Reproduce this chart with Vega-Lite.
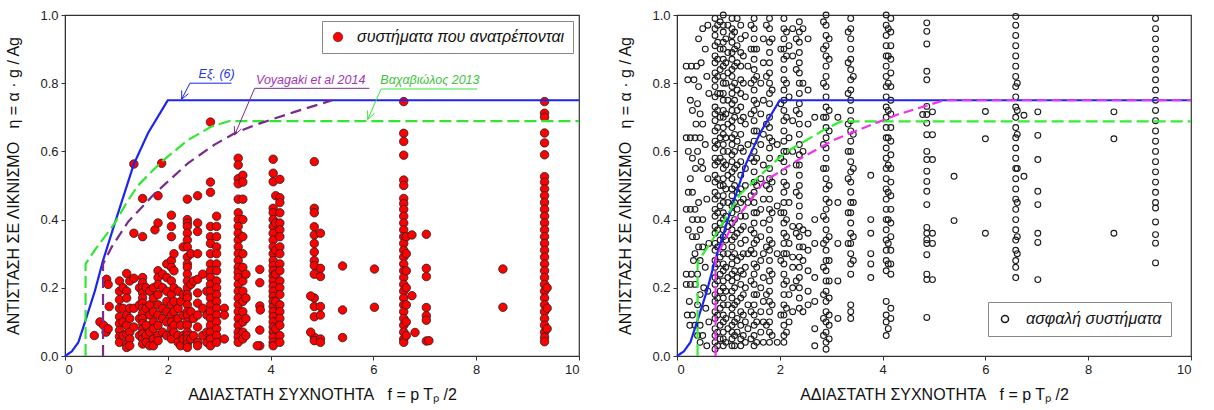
{
"$schema": "https://vega.github.io/schema/vega-lite/v6.json",
"background": "white",
"padding": {"left": 5, "top": 8, "right": 5, "bottom": 5},
"config": {
 "view": {"stroke": "#333", "strokeWidth": 1.2},
 "axis": {"domainColor": "#333", "tickColor": "#333", "tickSize": 4, "labelPadding": 3, "labelColor": "#222", "labelFont": "Liberation Sans", "labelFontSize": 13, "titleFont": "Liberation Sans", "titleFontSize": 16, "titleFontWeight": "normal", "titleColor": "#111", "grid": false},
 "legend": {"title": null, "labelFont": "Liberation Sans", "labelFontSize": 16, "labelFontStyle": "italic", "labelColor": "#111", "labelLimit": 400, "strokeColor": "#888", "fillColor": "white", "padding": 8, "labelOffset": 11},
 "concat": {"spacing": 33}
},
"datasets": {
 "fail": [
{"f":0.57,"eta":0.06},{"f":0.68,"eta":0.1},{"f":0.75,"eta":0.09},{"f":0.8,"eta":0.07},{"f":0.84,"eta":0.08},{"f":0.81,"eta":0.225},{"f":0.84,"eta":0.21},{"f":0.86,"eta":0.145},
{"f":1.06,"eta":0.22},{"f":1.06,"eta":0.19},{"f":1.06,"eta":0.165},{"f":1.06,"eta":0.14},{"f":1.06,"eta":0.115},{"f":1.06,"eta":0.095},{"f":1.06,"eta":0.075},{"f":1.06,"eta":0.057},{"f":1.06,"eta":0.04},
{"f":1.13,"eta":0.2},{"f":1.13,"eta":0.14},{"f":1.13,"eta":0.1},{"f":1.13,"eta":0.06},
{"f":1.2,"eta":0.242},{"f":1.2,"eta":0.19},{"f":1.2,"eta":0.17},{"f":1.2,"eta":0.12},{"f":1.2,"eta":0.09},{"f":1.2,"eta":0.065},{"f":1.2,"eta":0.035},{"f":1.2,"eta":0.025},
{"f":1.26,"eta":0.22},{"f":1.26,"eta":0.14},{"f":1.26,"eta":0.11},{"f":1.26,"eta":0.07},{"f":1.26,"eta":0.05},{"f":1.26,"eta":0.03},
{"f":1.34,"eta":0.563},{"f":1.34,"eta":0.36},{"f":1.34,"eta":0.228},{"f":1.34,"eta":0.14},{"f":1.34,"eta":0.085},
{"f":1.45,"eta":0.2},{"f":1.45,"eta":0.15},{"f":1.45,"eta":0.11},{"f":1.45,"eta":0.06},
{"f":1.51,"eta":0.462},{"f":1.51,"eta":0.35},{"f":1.51,"eta":0.23},{"f":1.51,"eta":0.215},{"f":1.51,"eta":0.2},{"f":1.51,"eta":0.185},{"f":1.51,"eta":0.17},{"f":1.51,"eta":0.155},{"f":1.51,"eta":0.14},{"f":1.51,"eta":0.125},{"f":1.51,"eta":0.11},{"f":1.51,"eta":0.095},{"f":1.51,"eta":0.08},{"f":1.51,"eta":0.065},{"f":1.51,"eta":0.05},{"f":1.51,"eta":0.035},
{"f":1.58,"eta":0.2},{"f":1.58,"eta":0.14},{"f":1.58,"eta":0.09},{"f":1.58,"eta":0.06},{"f":1.58,"eta":0.04},
{"f":1.65,"eta":0.19},{"f":1.65,"eta":0.15},{"f":1.65,"eta":0.12},{"f":1.65,"eta":0.07},{"f":1.65,"eta":0.03},
{"f":1.72,"eta":0.2},{"f":1.72,"eta":0.17},{"f":1.72,"eta":0.13},{"f":1.72,"eta":0.1},{"f":1.72,"eta":0.08},{"f":1.72,"eta":0.05},{"f":1.72,"eta":0.03},
{"f":1.75,"eta":0.37},
{"f":1.81,"eta":0.39},{"f":1.81,"eta":0.47},{"f":1.81,"eta":0.25},{"f":1.81,"eta":0.23},{"f":1.81,"eta":0.21},{"f":1.81,"eta":0.18},{"f":1.81,"eta":0.15},{"f":1.81,"eta":0.12},{"f":1.81,"eta":0.09},{"f":1.81,"eta":0.06},{"f":1.81,"eta":0.045},
{"f":1.88,"eta":0.565},
{"f":1.9,"eta":0.24},{"f":1.9,"eta":0.2},{"f":1.9,"eta":0.14},{"f":1.9,"eta":0.11},{"f":1.9,"eta":0.07},
{"f":1.98,"eta":0.27},{"f":1.98,"eta":0.23},{"f":1.98,"eta":0.19},{"f":1.98,"eta":0.16},{"f":1.98,"eta":0.13},{"f":1.98,"eta":0.1},{"f":1.98,"eta":0.06},
{"f":2.07,"eta":0.413},{"f":2.07,"eta":0.38},{"f":2.07,"eta":0.35},{"f":2.07,"eta":0.28},{"f":2.07,"eta":0.26},{"f":2.07,"eta":0.22},{"f":2.07,"eta":0.18},{"f":2.07,"eta":0.15},{"f":2.07,"eta":0.12},{"f":2.07,"eta":0.1},{"f":2.07,"eta":0.08},{"f":2.07,"eta":0.06},{"f":2.07,"eta":0.05},
{"f":2.12,"eta":0.3},{"f":2.12,"eta":0.25},{"f":2.12,"eta":0.2},{"f":2.12,"eta":0.16},{"f":2.12,"eta":0.13},{"f":2.12,"eta":0.09},{"f":2.12,"eta":0.07},
{"f":2.2,"eta":0.19},{"f":2.2,"eta":0.14},{"f":2.2,"eta":0.11},{"f":2.2,"eta":0.06},{"f":2.2,"eta":0.04},
{"f":2.25,"eta":0.16},{"f":2.25,"eta":0.09},{"f":2.25,"eta":0.03},
{"f":2.3,"eta":0.32},{"f":2.3,"eta":0.18},{"f":2.3,"eta":0.12},{"f":2.3,"eta":0.06},{"f":2.3,"eta":0.05},
{"f":2.38,"eta":0.46},{"f":2.38,"eta":0.4},{"f":2.38,"eta":0.39},{"f":2.38,"eta":0.38},{"f":2.38,"eta":0.36},{"f":2.38,"eta":0.34},{"f":2.38,"eta":0.32},{"f":2.38,"eta":0.29},{"f":2.38,"eta":0.27},{"f":2.38,"eta":0.26},{"f":2.38,"eta":0.24},{"f":2.38,"eta":0.22},{"f":2.38,"eta":0.2},{"f":2.38,"eta":0.18},{"f":2.38,"eta":0.17},{"f":2.38,"eta":0.15},{"f":2.38,"eta":0.13},{"f":2.38,"eta":0.12},{"f":2.38,"eta":0.1},{"f":2.38,"eta":0.09},{"f":2.38,"eta":0.07},{"f":2.38,"eta":0.06},{"f":2.38,"eta":0.05},{"f":2.38,"eta":0.035},{"f":2.38,"eta":0.025},
{"f":2.45,"eta":0.3},{"f":2.45,"eta":0.21},{"f":2.45,"eta":0.13},{"f":2.45,"eta":0.05},
{"f":2.5,"eta":0.22},{"f":2.5,"eta":0.11},{"f":2.5,"eta":0.06},
{"f":2.58,"eta":0.47},{"f":2.58,"eta":0.39},{"f":2.58,"eta":0.365},{"f":2.58,"eta":0.3},{"f":2.58,"eta":0.225},{"f":2.58,"eta":0.185},{"f":2.58,"eta":0.155},{"f":2.58,"eta":0.12},{"f":2.58,"eta":0.085},{"f":2.58,"eta":0.04},{"f":2.58,"eta":0.03},
{"f":2.68,"eta":0.24},{"f":2.68,"eta":0.14},{"f":2.68,"eta":0.06},
{"f":2.76,"eta":0.19},{"f":2.76,"eta":0.12},{"f":2.76,"eta":0.07},{"f":2.76,"eta":0.04},
{"f":2.83,"eta":0.686},{"f":2.83,"eta":0.51},{"f":2.83,"eta":0.48},{"f":2.83,"eta":0.38},{"f":2.83,"eta":0.35},{"f":2.83,"eta":0.33},{"f":2.83,"eta":0.3},{"f":2.83,"eta":0.27},{"f":2.83,"eta":0.25},{"f":2.83,"eta":0.23},{"f":2.83,"eta":0.21},{"f":2.83,"eta":0.19},{"f":2.83,"eta":0.17},{"f":2.83,"eta":0.15},{"f":2.83,"eta":0.13},{"f":2.83,"eta":0.11},{"f":2.83,"eta":0.09},{"f":2.83,"eta":0.07},{"f":2.83,"eta":0.05},{"f":2.83,"eta":0.03},
{"f":2.95,"eta":0.41},{"f":2.95,"eta":0.38},{"f":2.95,"eta":0.35},{"f":2.95,"eta":0.32},{"f":2.95,"eta":0.3},{"f":2.95,"eta":0.27},{"f":2.95,"eta":0.25},{"f":2.95,"eta":0.22},{"f":2.95,"eta":0.2},{"f":2.95,"eta":0.18},{"f":2.95,"eta":0.16},{"f":2.95,"eta":0.14},{"f":2.95,"eta":0.12},{"f":2.95,"eta":0.1},{"f":2.95,"eta":0.08},{"f":2.95,"eta":0.06},{"f":2.95,"eta":0.04},
{"f":3.1,"eta":0.14},{"f":3.1,"eta":0.12},{"f":3.1,"eta":0.05},
{"f":3.37,"eta":0.58},{"f":3.37,"eta":0.56},{"f":3.37,"eta":0.52},{"f":3.37,"eta":0.505},{"f":3.37,"eta":0.46},{"f":3.37,"eta":0.42},{"f":3.37,"eta":0.4},{"f":3.37,"eta":0.38},{"f":3.37,"eta":0.36},{"f":3.37,"eta":0.34},{"f":3.37,"eta":0.32},{"f":3.37,"eta":0.3},{"f":3.37,"eta":0.28},{"f":3.37,"eta":0.26},{"f":3.37,"eta":0.245},{"f":3.37,"eta":0.23},{"f":3.37,"eta":0.21},{"f":3.37,"eta":0.19},{"f":3.37,"eta":0.17},{"f":3.37,"eta":0.15},{"f":3.37,"eta":0.13},{"f":3.37,"eta":0.11},{"f":3.37,"eta":0.09},{"f":3.37,"eta":0.07},{"f":3.37,"eta":0.055},{"f":3.37,"eta":0.04},
{"f":3.46,"eta":0.53},{"f":3.46,"eta":0.51},{"f":3.46,"eta":0.46},{"f":3.46,"eta":0.4},{"f":3.46,"eta":0.35},{"f":3.46,"eta":0.3},{"f":3.46,"eta":0.26},{"f":3.46,"eta":0.22},{"f":3.46,"eta":0.19},{"f":3.46,"eta":0.16},{"f":3.46,"eta":0.13},{"f":3.46,"eta":0.1},{"f":3.46,"eta":0.07},{"f":3.46,"eta":0.05},
{"f":3.52,"eta":0.24},{"f":3.52,"eta":0.17},{"f":3.52,"eta":0.11},{"f":3.52,"eta":0.06},
{"f":3.79,"eta":0.254},{"f":3.79,"eta":0.215},{"f":3.79,"eta":0.147},{"f":3.8,"eta":0.135},{"f":3.79,"eta":0.076},{"f":3.79,"eta":0.03},{"f":3.74,"eta":0.03},
{"f":4.05,"eta":0.577},{"f":4.05,"eta":0.536},{"f":4.05,"eta":0.511},{"f":4.05,"eta":0.433},{"f":4.05,"eta":0.42},{"f":4.05,"eta":0.4},{"f":4.05,"eta":0.38},{"f":4.05,"eta":0.36},{"f":4.05,"eta":0.34},{"f":4.05,"eta":0.32},{"f":4.05,"eta":0.3},{"f":4.05,"eta":0.28},{"f":4.05,"eta":0.265},{"f":4.05,"eta":0.25},{"f":4.05,"eta":0.235},{"f":4.05,"eta":0.22},{"f":4.05,"eta":0.205},{"f":4.05,"eta":0.19},{"f":4.05,"eta":0.175},{"f":4.05,"eta":0.16},{"f":4.05,"eta":0.145},{"f":4.05,"eta":0.13},{"f":4.05,"eta":0.115},{"f":4.05,"eta":0.1},{"f":4.05,"eta":0.085},{"f":4.05,"eta":0.07},{"f":4.05,"eta":0.055},{"f":4.05,"eta":0.04},{"f":4.05,"eta":0.03},
{"f":4.1,"eta":0.47},{"f":4.1,"eta":0.39},{"f":4.1,"eta":0.31},{"f":4.1,"eta":0.24},{"f":4.1,"eta":0.16},{"f":4.1,"eta":0.08},
{"f":4.18,"eta":0.518},{"f":4.18,"eta":0.464},{"f":4.18,"eta":0.45},{"f":4.18,"eta":0.42},{"f":4.18,"eta":0.39},{"f":4.18,"eta":0.37},{"f":4.18,"eta":0.35},{"f":4.18,"eta":0.32},{"f":4.18,"eta":0.3},{"f":4.18,"eta":0.27},{"f":4.18,"eta":0.25},{"f":4.18,"eta":0.22},{"f":4.18,"eta":0.2},{"f":4.18,"eta":0.18},{"f":4.18,"eta":0.15},{"f":4.18,"eta":0.13},{"f":4.18,"eta":0.11},{"f":4.18,"eta":0.09},{"f":4.18,"eta":0.06},{"f":4.18,"eta":0.04},
{"f":4.85,"eta":0.57},{"f":4.85,"eta":0.433},{"f":4.85,"eta":0.42},{"f":4.85,"eta":0.379},{"f":4.85,"eta":0.355},{"f":4.85,"eta":0.33},{"f":4.85,"eta":0.305},{"f":4.85,"eta":0.28},{"f":4.85,"eta":0.265},{"f":4.85,"eta":0.24},{"f":4.85,"eta":0.17},{"f":4.85,"eta":0.145},{"f":4.85,"eta":0.115},{"f":4.85,"eta":0.055},{"f":4.85,"eta":0.045},
{"f":4.78,"eta":0.176},{"f":4.78,"eta":0.07},
{"f":4.97,"eta":0.36},{"f":4.97,"eta":0.257},{"f":4.97,"eta":0.233},{"f":4.97,"eta":0.145},{"f":4.97,"eta":0.12},{"f":4.97,"eta":0.05},{"f":4.97,"eta":0.04},
{"f":5.4,"eta":0.264},{"f":5.4,"eta":0.135},{"f":5.4,"eta":0.054},
{"f":6.02,"eta":0.255},{"f":6.02,"eta":0.143},
{"f":6.59,"eta":0.746},{"f":6.59,"eta":0.653},{"f":6.59,"eta":0.629},{"f":6.59,"eta":0.589},{"f":6.59,"eta":0.516},{"f":6.59,"eta":0.5},{"f":6.59,"eta":0.462},{"f":6.59,"eta":0.447},{"f":6.59,"eta":0.43},{"f":6.59,"eta":0.41},{"f":6.59,"eta":0.39},{"f":6.59,"eta":0.37},{"f":6.59,"eta":0.35},{"f":6.59,"eta":0.33},{"f":6.59,"eta":0.31},{"f":6.59,"eta":0.29},{"f":6.59,"eta":0.27},{"f":6.59,"eta":0.25},{"f":6.59,"eta":0.23},{"f":6.59,"eta":0.21},{"f":6.59,"eta":0.19},{"f":6.59,"eta":0.17},{"f":6.59,"eta":0.15},{"f":6.59,"eta":0.13},{"f":6.59,"eta":0.11},{"f":6.59,"eta":0.09},{"f":6.59,"eta":0.07},{"f":6.59,"eta":0.05},{"f":6.59,"eta":0.04},
{"f":6.64,"eta":0.35},{"f":6.64,"eta":0.3},{"f":6.64,"eta":0.25},{"f":6.64,"eta":0.2},{"f":6.64,"eta":0.15},{"f":6.64,"eta":0.1},{"f":6.64,"eta":0.06},
{"f":6.75,"eta":0.355},{"f":6.75,"eta":0.177},{"f":6.81,"eta":0.069},
{"f":7.03,"eta":0.357},{"f":7.03,"eta":0.257},{"f":7.03,"eta":0.233},{"f":7.03,"eta":0.142},{"f":7.03,"eta":0.118},{"f":7.03,"eta":0.105},{"f":7.03,"eta":0.044},{"f":7.08,"eta":0.045},
{"f":8.52,"eta":0.255},{"f":8.52,"eta":0.143},
{"f":9.33,"eta":0.746},{"f":9.33,"eta":0.712},{"f":9.33,"eta":0.7},{"f":9.33,"eta":0.654},{"f":9.33,"eta":0.625},{"f":9.33,"eta":0.59},{"f":9.33,"eta":0.526},{"f":9.33,"eta":0.51},{"f":9.33,"eta":0.49},{"f":9.33,"eta":0.47},{"f":9.33,"eta":0.45},{"f":9.33,"eta":0.43},{"f":9.33,"eta":0.41},{"f":9.33,"eta":0.39},{"f":9.33,"eta":0.37},{"f":9.33,"eta":0.35},{"f":9.33,"eta":0.33},{"f":9.33,"eta":0.31},{"f":9.33,"eta":0.29},{"f":9.33,"eta":0.27},{"f":9.33,"eta":0.25},{"f":9.33,"eta":0.23},{"f":9.33,"eta":0.21},{"f":9.33,"eta":0.19},{"f":9.33,"eta":0.17},{"f":9.33,"eta":0.15},{"f":9.33,"eta":0.13},{"f":9.33,"eta":0.11},{"f":9.33,"eta":0.09},{"f":9.33,"eta":0.07},{"f":9.33,"eta":0.055},{"f":9.33,"eta":0.042},
{"f":9.38,"eta":0.2},{"f":9.38,"eta":0.14},{"f":9.38,"eta":0.08}
 ],
 "safe": [
{"f":0.18,"eta":0.85},{"f":0.28,"eta":0.85},{"f":0.38,"eta":0.85},{"f":0.47,"eta":0.86},{"f":0.21,"eta":0.81},{"f":0.33,"eta":0.81},{"f":0.42,"eta":0.79},{"f":0.26,"eta":0.75},{"f":0.4,"eta":0.74},{"f":0.3,"eta":0.72},{"f":0.45,"eta":0.71},{"f":0.37,"eta":0.68},{"f":0.5,"eta":0.68},{"f":0.18,"eta":0.64},{"f":0.26,"eta":0.64},{"f":0.35,"eta":0.64},{"f":0.45,"eta":0.64},{"f":0.22,"eta":0.6},{"f":0.4,"eta":0.6},{"f":0.3,"eta":0.58},{"f":0.47,"eta":0.57},{"f":0.36,"eta":0.55},{"f":0.5,"eta":0.55},{"f":0.26,"eta":0.52},{"f":0.22,"eta":0.48},{"f":0.3,"eta":0.48},{"f":0.42,"eta":0.45},{"f":0.18,"eta":0.43},{"f":0.26,"eta":0.43},{"f":0.35,"eta":0.43},{"f":0.3,"eta":0.4},{"f":0.4,"eta":0.4},{"f":0.5,"eta":0.4},{"f":0.22,"eta":0.37},{"f":0.45,"eta":0.37},{"f":0.3,"eta":0.35},{"f":0.38,"eta":0.35},{"f":0.42,"eta":0.32},{"f":0.5,"eta":0.32},{"f":0.35,"eta":0.3},{"f":0.45,"eta":0.28},{"f":0.18,"eta":0.24},{"f":0.28,"eta":0.24},{"f":0.4,"eta":0.24},{"f":0.18,"eta":0.21},{"f":0.26,"eta":0.21},{"f":0.35,"eta":0.21},{"f":0.45,"eta":0.18},{"f":0.4,"eta":0.15},{"f":0.2,"eta":0.12},{"f":0.3,"eta":0.12},{"f":0.25,"eta":0.09},{"f":0.35,"eta":0.09},{"f":0.45,"eta":0.09},{"f":0.4,"eta":0.06},{"f":0.5,"eta":0.06},{"f":0.45,"eta":0.04},{"f":0.5,"eta":0.96},{"f":0.42,"eta":0.93},{"f":0.55,"eta":0.9},{"f":0.6,"eta":0.97},{"f":0.58,"eta":0.82},{"f":0.62,"eta":0.77},{"f":0.55,"eta":0.62},{"f":0.6,"eta":0.52},{"f":0.58,"eta":0.46},{"f":0.62,"eta":0.33},{"f":0.55,"eta":0.26},{"f":0.6,"eta":0.19},{"f":0.56,"eta":0.14},{"f":0.62,"eta":0.1},{"f":0.58,"eta":0.03},{"f":0.52,"eta":0.2},{"f":0.32,"eta":0.28},{"f":0.24,"eta":0.16},
{"f":0.74,"eta":0.99},{"f":0.74,"eta":0.96},{"f":0.74,"eta":0.94},{"f":0.74,"eta":0.91},{"f":0.74,"eta":0.88},{"f":0.74,"eta":0.86},{"f":0.74,"eta":0.83},{"f":0.74,"eta":0.81},{"f":0.74,"eta":0.79},{"f":0.74,"eta":0.76},{"f":0.74,"eta":0.73},{"f":0.74,"eta":0.71},{"f":0.74,"eta":0.69},{"f":0.74,"eta":0.66},{"f":0.74,"eta":0.63},{"f":0.74,"eta":0.61},{"f":0.74,"eta":0.58},{"f":0.74,"eta":0.56},{"f":0.74,"eta":0.53},{"f":0.74,"eta":0.51},{"f":0.74,"eta":0.48},{"f":0.74,"eta":0.46},{"f":0.74,"eta":0.43},{"f":0.74,"eta":0.41},{"f":0.74,"eta":0.38},{"f":0.74,"eta":0.36},{"f":0.74,"eta":0.33},{"f":0.74,"eta":0.31},{"f":0.74,"eta":0.28},{"f":0.74,"eta":0.26},{"f":0.74,"eta":0.23},{"f":0.74,"eta":0.21},{"f":0.74,"eta":0.18},{"f":0.74,"eta":0.16},{"f":0.74,"eta":0.13},{"f":0.74,"eta":0.11},{"f":0.74,"eta":0.08},{"f":0.74,"eta":0.06},{"f":0.74,"eta":0.04},{"f":0.74,"eta":0.02},
{"f":0.79,"eta":0.97},{"f":0.79,"eta":0.92},{"f":0.79,"eta":0.87},{"f":0.79,"eta":0.82},{"f":0.79,"eta":0.77},{"f":0.79,"eta":0.72},{"f":0.79,"eta":0.67},{"f":0.79,"eta":0.62},{"f":0.79,"eta":0.57},{"f":0.79,"eta":0.52},{"f":0.79,"eta":0.47},{"f":0.79,"eta":0.42},{"f":0.79,"eta":0.37},{"f":0.79,"eta":0.32},{"f":0.79,"eta":0.27},{"f":0.79,"eta":0.22},{"f":0.79,"eta":0.17},{"f":0.79,"eta":0.12},{"f":0.79,"eta":0.07},{"f":0.79,"eta":0.03},
{"f":0.84,"eta":0.98},{"f":0.84,"eta":0.9},{"f":0.84,"eta":0.84},{"f":0.84,"eta":0.77},{"f":0.84,"eta":0.7},{"f":0.84,"eta":0.64},{"f":0.84,"eta":0.58},{"f":0.84,"eta":0.5},{"f":0.84,"eta":0.44},{"f":0.84,"eta":0.39},{"f":0.84,"eta":0.34},{"f":0.84,"eta":0.29},{"f":0.84,"eta":0.24},{"f":0.84,"eta":0.19},{"f":0.84,"eta":0.14},{"f":0.84,"eta":0.09},{"f":0.84,"eta":0.05},
{"f":0.9,"eta":1.0},{"f":0.9,"eta":0.97},{"f":0.9,"eta":0.95},{"f":0.9,"eta":0.92},{"f":0.9,"eta":0.9},{"f":0.9,"eta":0.87},{"f":0.9,"eta":0.85},{"f":0.9,"eta":0.82},{"f":0.9,"eta":0.8},{"f":0.9,"eta":0.77},{"f":0.9,"eta":0.75},{"f":0.9,"eta":0.72},{"f":0.9,"eta":0.7},{"f":0.9,"eta":0.67},{"f":0.9,"eta":0.65},{"f":0.9,"eta":0.62},{"f":0.9,"eta":0.6},{"f":0.9,"eta":0.57},{"f":0.9,"eta":0.55},{"f":0.9,"eta":0.52},{"f":0.9,"eta":0.5},{"f":0.9,"eta":0.47},{"f":0.9,"eta":0.45},{"f":0.9,"eta":0.42},{"f":0.9,"eta":0.4},{"f":0.9,"eta":0.37},{"f":0.9,"eta":0.35},{"f":0.9,"eta":0.32},{"f":0.9,"eta":0.3},{"f":0.9,"eta":0.27},{"f":0.9,"eta":0.25},{"f":0.9,"eta":0.22},{"f":0.9,"eta":0.2},{"f":0.9,"eta":0.17},{"f":0.9,"eta":0.15},{"f":0.9,"eta":0.12},{"f":0.9,"eta":0.1},{"f":0.9,"eta":0.07},{"f":0.9,"eta":0.05},{"f":0.9,"eta":0.03},
{"f":0.95,"eta":0.93},{"f":0.95,"eta":0.86},{"f":0.95,"eta":0.8},{"f":0.95,"eta":0.71},{"f":0.95,"eta":0.64},{"f":0.95,"eta":0.56},{"f":0.95,"eta":0.49},{"f":0.95,"eta":0.41},{"f":0.95,"eta":0.34},{"f":0.95,"eta":0.26},{"f":0.95,"eta":0.19},{"f":0.95,"eta":0.11},{"f":0.95,"eta":0.04},
{"f":0.99,"eta":0.97},{"f":0.99,"eta":0.89},{"f":0.99,"eta":0.83},{"f":0.99,"eta":0.75},{"f":0.99,"eta":0.68},{"f":0.99,"eta":0.6},{"f":0.99,"eta":0.53},{"f":0.99,"eta":0.45},{"f":0.99,"eta":0.38},{"f":0.99,"eta":0.3},{"f":0.99,"eta":0.23},{"f":0.99,"eta":0.15},{"f":0.99,"eta":0.08},
{"f":1.07,"eta":0.99},{"f":1.07,"eta":0.96},{"f":1.07,"eta":0.94},{"f":1.07,"eta":0.92},{"f":1.07,"eta":0.89},{"f":1.07,"eta":0.87},{"f":1.07,"eta":0.84},{"f":1.07,"eta":0.82},{"f":1.07,"eta":0.79},{"f":1.07,"eta":0.77},{"f":1.07,"eta":0.74},{"f":1.07,"eta":0.72},{"f":1.07,"eta":0.69},{"f":1.07,"eta":0.67},{"f":1.07,"eta":0.64},{"f":1.07,"eta":0.62},{"f":1.07,"eta":0.59},{"f":1.07,"eta":0.57},{"f":1.07,"eta":0.54},{"f":1.07,"eta":0.52},{"f":1.07,"eta":0.49},{"f":1.07,"eta":0.47},{"f":1.07,"eta":0.44},{"f":1.07,"eta":0.42},{"f":1.07,"eta":0.39},{"f":1.07,"eta":0.37},{"f":1.07,"eta":0.34},{"f":1.07,"eta":0.32},{"f":1.07,"eta":0.29},{"f":1.07,"eta":0.27},{"f":1.07,"eta":0.24},{"f":1.07,"eta":0.22},{"f":1.07,"eta":0.19},{"f":1.07,"eta":0.17},{"f":1.07,"eta":0.14},{"f":1.07,"eta":0.12},{"f":1.07,"eta":0.09},{"f":1.07,"eta":0.07},{"f":1.07,"eta":0.05},{"f":1.07,"eta":0.03},
{"f":1.12,"eta":0.95},{"f":1.12,"eta":0.9},{"f":1.12,"eta":0.85},{"f":1.12,"eta":0.8},{"f":1.12,"eta":0.75},{"f":1.12,"eta":0.7},{"f":1.12,"eta":0.65},{"f":1.12,"eta":0.6},{"f":1.12,"eta":0.55},{"f":1.12,"eta":0.5},{"f":1.12,"eta":0.45},{"f":1.12,"eta":0.4},{"f":1.12,"eta":0.35},{"f":1.12,"eta":0.3},{"f":1.12,"eta":0.25},{"f":1.12,"eta":0.2},{"f":1.12,"eta":0.15},{"f":1.12,"eta":0.1},{"f":1.12,"eta":0.06},{"f":1.12,"eta":0.03},
{"f":1.17,"eta":0.99},{"f":1.17,"eta":0.91},{"f":1.17,"eta":0.86},{"f":1.17,"eta":0.78},{"f":1.17,"eta":0.72},{"f":1.17,"eta":0.63},{"f":1.17,"eta":0.56},{"f":1.17,"eta":0.48},{"f":1.17,"eta":0.43},{"f":1.17,"eta":0.36},{"f":1.17,"eta":0.28},{"f":1.17,"eta":0.23},{"f":1.17,"eta":0.16},{"f":1.17,"eta":0.11},{"f":1.17,"eta":0.07},
{"f":1.24,"eta":0.97},{"f":1.24,"eta":0.93},{"f":1.24,"eta":0.89},{"f":1.24,"eta":0.85},{"f":1.24,"eta":0.81},{"f":1.24,"eta":0.77},{"f":1.24,"eta":0.73},{"f":1.24,"eta":0.69},{"f":1.24,"eta":0.65},{"f":1.24,"eta":0.61},{"f":1.24,"eta":0.57},{"f":1.24,"eta":0.53},{"f":1.24,"eta":0.49},{"f":1.24,"eta":0.45},{"f":1.24,"eta":0.41},{"f":1.24,"eta":0.37},{"f":1.24,"eta":0.33},{"f":1.24,"eta":0.29},{"f":1.24,"eta":0.25},{"f":1.24,"eta":0.21},{"f":1.24,"eta":0.17},{"f":1.24,"eta":0.13},{"f":1.24,"eta":0.09},{"f":1.24,"eta":0.05},{"f":1.24,"eta":0.03},
{"f":1.29,"eta":0.88},{"f":1.29,"eta":0.8},{"f":1.29,"eta":0.7},{"f":1.29,"eta":0.6},{"f":1.29,"eta":0.46},{"f":1.29,"eta":0.38},{"f":1.29,"eta":0.3},{"f":1.29,"eta":0.24},{"f":1.29,"eta":0.18},{"f":1.29,"eta":0.12},{"f":1.29,"eta":0.06},
{"f":1.33,"eta":0.94},{"f":1.33,"eta":0.76},{"f":1.33,"eta":0.68},{"f":1.33,"eta":0.55},{"f":1.33,"eta":0.5},{"f":1.33,"eta":0.41},{"f":1.33,"eta":0.34},{"f":1.33,"eta":0.26},{"f":1.33,"eta":0.2},{"f":1.33,"eta":0.1},{"f":1.33,"eta":0.04},
{"f":1.38,"eta":0.85},{"f":1.38,"eta":0.62},{"f":1.38,"eta":0.45},{"f":1.38,"eta":0.3},{"f":1.38,"eta":0.15},{"f":1.38,"eta":0.08},
{"f":1.44,"eta":0.97},{"f":1.44,"eta":0.9},{"f":1.44,"eta":0.8},{"f":1.44,"eta":0.71},{"f":1.44,"eta":0.58},{"f":1.44,"eta":0.47},{"f":1.44,"eta":0.37},{"f":1.44,"eta":0.31},{"f":1.44,"eta":0.22},{"f":1.44,"eta":0.13},{"f":1.44,"eta":0.05},
{"f":1.5,"eta":0.99},{"f":1.5,"eta":0.96},{"f":1.5,"eta":0.93},{"f":1.5,"eta":0.9},{"f":1.5,"eta":0.87},{"f":1.5,"eta":0.84},{"f":1.5,"eta":0.81},{"f":1.5,"eta":0.78},{"f":1.5,"eta":0.75},{"f":1.5,"eta":0.72},{"f":1.5,"eta":0.69},{"f":1.5,"eta":0.66},{"f":1.5,"eta":0.63},{"f":1.5,"eta":0.6},{"f":1.5,"eta":0.57},{"f":1.5,"eta":0.54},{"f":1.5,"eta":0.51},{"f":1.5,"eta":0.48},{"f":1.5,"eta":0.45},{"f":1.5,"eta":0.42},{"f":1.5,"eta":0.39},{"f":1.5,"eta":0.36},{"f":1.5,"eta":0.33},{"f":1.5,"eta":0.3},{"f":1.5,"eta":0.27},{"f":1.5,"eta":0.24},{"f":1.5,"eta":0.21},{"f":1.5,"eta":0.18},{"f":1.5,"eta":0.15},{"f":1.5,"eta":0.12},{"f":1.5,"eta":0.09},{"f":1.5,"eta":0.06},{"f":1.5,"eta":0.03},
{"f":1.55,"eta":0.9},{"f":1.55,"eta":0.82},{"f":1.55,"eta":0.74},{"f":1.55,"eta":0.66},{"f":1.55,"eta":0.58},{"f":1.55,"eta":0.5},{"f":1.55,"eta":0.42},{"f":1.55,"eta":0.34},{"f":1.55,"eta":0.26},{"f":1.55,"eta":0.18},{"f":1.55,"eta":0.1},{"f":1.55,"eta":0.04},
{"f":1.63,"eta":0.8},{"f":1.63,"eta":0.71},{"f":1.63,"eta":0.62},{"f":1.63,"eta":0.52},{"f":1.63,"eta":0.43},{"f":1.63,"eta":0.35},{"f":1.63,"eta":0.28},{"f":1.63,"eta":0.2},{"f":1.63,"eta":0.13},{"f":1.63,"eta":0.07},
{"f":1.68,"eta":0.93},{"f":1.68,"eta":0.86},{"f":1.68,"eta":0.75},{"f":1.68,"eta":0.65},{"f":1.68,"eta":0.56},{"f":1.68,"eta":0.46},{"f":1.68,"eta":0.39},{"f":1.68,"eta":0.3},{"f":1.68,"eta":0.23},{"f":1.68,"eta":0.16},{"f":1.68,"eta":0.1},{"f":1.68,"eta":0.04},
{"f":1.74,"eta":0.97},{"f":1.74,"eta":0.82},{"f":1.74,"eta":0.68},{"f":1.74,"eta":0.5},{"f":1.74,"eta":0.32},{"f":1.74,"eta":0.18},{"f":1.74,"eta":0.09},
{"f":1.8,"eta":0.99},{"f":1.8,"eta":0.96},{"f":1.8,"eta":0.92},{"f":1.8,"eta":0.89},{"f":1.8,"eta":0.86},{"f":1.8,"eta":0.83},{"f":1.8,"eta":0.8},{"f":1.8,"eta":0.77},{"f":1.8,"eta":0.74},{"f":1.8,"eta":0.7},{"f":1.8,"eta":0.67},{"f":1.8,"eta":0.64},{"f":1.8,"eta":0.61},{"f":1.8,"eta":0.58},{"f":1.8,"eta":0.55},{"f":1.8,"eta":0.52},{"f":1.8,"eta":0.49},{"f":1.8,"eta":0.46},{"f":1.8,"eta":0.43},{"f":1.8,"eta":0.4},{"f":1.8,"eta":0.37},{"f":1.8,"eta":0.34},{"f":1.8,"eta":0.31},{"f":1.8,"eta":0.28},{"f":1.8,"eta":0.25},{"f":1.8,"eta":0.22},{"f":1.8,"eta":0.19},{"f":1.8,"eta":0.16},{"f":1.8,"eta":0.13},{"f":1.8,"eta":0.1},{"f":1.8,"eta":0.07},{"f":1.8,"eta":0.04},
{"f":1.85,"eta":0.93},{"f":1.85,"eta":0.78},{"f":1.85,"eta":0.63},{"f":1.85,"eta":0.51},{"f":1.85,"eta":0.42},{"f":1.85,"eta":0.33},{"f":1.85,"eta":0.24},{"f":1.85,"eta":0.15},{"f":1.85,"eta":0.06},
{"f":1.95,"eta":0.62},{"f":1.95,"eta":0.44},{"f":1.95,"eta":0.3},{"f":1.95,"eta":0.04},
{"f":2.02,"eta":0.9},{"f":2.02,"eta":0.74},{"f":2.02,"eta":0.58},{"f":2.02,"eta":0.42},{"f":2.02,"eta":0.28},{"f":2.02,"eta":0.12},
{"f":2.08,"eta":0.99},{"f":2.08,"eta":0.96},{"f":2.08,"eta":0.93},{"f":2.08,"eta":0.9},{"f":2.08,"eta":0.87},{"f":2.08,"eta":0.84},{"f":2.08,"eta":0.81},{"f":2.08,"eta":0.78},{"f":2.08,"eta":0.75},{"f":2.08,"eta":0.72},{"f":2.08,"eta":0.69},{"f":2.08,"eta":0.66},{"f":2.08,"eta":0.63},{"f":2.08,"eta":0.6},{"f":2.08,"eta":0.57},{"f":2.08,"eta":0.54},{"f":2.08,"eta":0.51},{"f":2.08,"eta":0.48},{"f":2.08,"eta":0.45},{"f":2.08,"eta":0.42},{"f":2.08,"eta":0.39},{"f":2.08,"eta":0.36},{"f":2.08,"eta":0.33},{"f":2.08,"eta":0.3},{"f":2.08,"eta":0.27},{"f":2.08,"eta":0.24},{"f":2.08,"eta":0.21},{"f":2.08,"eta":0.18},{"f":2.08,"eta":0.15},{"f":2.08,"eta":0.12},{"f":2.08,"eta":0.09},{"f":2.08,"eta":0.06},{"f":2.08,"eta":0.04},
{"f":2.13,"eta":0.95},{"f":2.13,"eta":0.88},{"f":2.13,"eta":0.8},{"f":2.13,"eta":0.7},{"f":2.13,"eta":0.6},{"f":2.13,"eta":0.5},{"f":2.13,"eta":0.4},{"f":2.13,"eta":0.35},{"f":2.13,"eta":0.3},{"f":2.13,"eta":0.22},{"f":2.13,"eta":0.14},{"f":2.13,"eta":0.07},
{"f":2.18,"eta":0.91},{"f":2.18,"eta":0.76},{"f":2.18,"eta":0.64},{"f":2.18,"eta":0.45},{"f":2.18,"eta":0.33},{"f":2.18,"eta":0.18},{"f":2.18,"eta":0.1},
{"f":2.25,"eta":0.96},{"f":2.25,"eta":0.88},{"f":2.25,"eta":0.69},{"f":2.25,"eta":0.6},{"f":2.25,"eta":0.38},{"f":2.25,"eta":0.29},{"f":2.25,"eta":0.26},{"f":2.25,"eta":0.2},{"f":2.25,"eta":0.13},
{"f":2.32,"eta":0.93},{"f":2.32,"eta":0.84},{"f":2.32,"eta":0.72},{"f":2.32,"eta":0.56},{"f":2.32,"eta":0.48},{"f":2.32,"eta":0.36},{"f":2.32,"eta":0.22},
{"f":2.38,"eta":0.98},{"f":2.38,"eta":0.95},{"f":2.38,"eta":0.92},{"f":2.38,"eta":0.89},{"f":2.38,"eta":0.86},{"f":2.38,"eta":0.83},{"f":2.38,"eta":0.8},{"f":2.38,"eta":0.77},{"f":2.38,"eta":0.74},{"f":2.38,"eta":0.71},{"f":2.38,"eta":0.68},{"f":2.38,"eta":0.65},{"f":2.38,"eta":0.62},{"f":2.38,"eta":0.59},{"f":2.38,"eta":0.56},{"f":2.38,"eta":0.53},{"f":2.38,"eta":0.5},{"f":2.38,"eta":0.47},{"f":2.38,"eta":0.44},{"f":2.38,"eta":0.41},{"f":2.38,"eta":0.38},{"f":2.38,"eta":0.35},{"f":2.38,"eta":0.32},{"f":2.38,"eta":0.29},{"f":2.38,"eta":0.26},{"f":2.38,"eta":0.23},{"f":2.38,"eta":0.2},{"f":2.38,"eta":0.17},{"f":2.38,"eta":0.14},
{"f":2.45,"eta":0.96},{"f":2.45,"eta":0.8},{"f":2.45,"eta":0.6},{"f":2.45,"eta":0.37},{"f":2.45,"eta":0.32},{"f":2.45,"eta":0.28},{"f":2.45,"eta":0.13},
{"f":2.55,"eta":0.93},{"f":2.55,"eta":0.78},{"f":2.55,"eta":0.68},{"f":2.55,"eta":0.36},{"f":2.55,"eta":0.31},{"f":2.55,"eta":0.25},{"f":2.55,"eta":0.19},{"f":2.55,"eta":0.15},
{"f":2.68,"eta":0.7},{"f":2.68,"eta":0.4},{"f":2.68,"eta":0.33},{"f":2.68,"eta":0.23},{"f":2.68,"eta":0.16},{"f":2.68,"eta":0.08},{"f":2.68,"eta":0.03},
{"f":2.85,"eta":0.98},{"f":2.85,"eta":0.9},{"f":2.85,"eta":0.8},{"f":2.85,"eta":0.7},{"f":2.85,"eta":0.62},{"f":2.85,"eta":0.55},{"f":2.85,"eta":0.41},{"f":2.85,"eta":0.33},{"f":2.85,"eta":0.26},{"f":2.85,"eta":0.18},{"f":2.85,"eta":0.11},{"f":2.85,"eta":0.06},
{"f":2.9,"eta":1.0},{"f":2.9,"eta":0.97},{"f":2.9,"eta":0.94},{"f":2.9,"eta":0.91},{"f":2.9,"eta":0.88},{"f":2.9,"eta":0.85},{"f":2.9,"eta":0.82},{"f":2.9,"eta":0.79},{"f":2.9,"eta":0.76},{"f":2.9,"eta":0.73},{"f":2.9,"eta":0.7},{"f":2.9,"eta":0.67},{"f":2.9,"eta":0.64},{"f":2.9,"eta":0.61},{"f":2.9,"eta":0.58},{"f":2.9,"eta":0.55},{"f":2.9,"eta":0.52},{"f":2.9,"eta":0.49},{"f":2.9,"eta":0.46},{"f":2.9,"eta":0.43},{"f":2.9,"eta":0.4},{"f":2.9,"eta":0.37},{"f":2.9,"eta":0.34},{"f":2.9,"eta":0.31},{"f":2.9,"eta":0.28},{"f":2.9,"eta":0.25},{"f":2.9,"eta":0.22},{"f":2.9,"eta":0.19},{"f":2.9,"eta":0.16},{"f":2.9,"eta":0.13},{"f":2.9,"eta":0.1},{"f":2.9,"eta":0.07},{"f":2.9,"eta":0.04},{"f":2.9,"eta":0.02},
{"f":2.96,"eta":0.93},{"f":2.96,"eta":0.87},{"f":2.96,"eta":0.72},{"f":2.96,"eta":0.66},{"f":2.96,"eta":0.5},{"f":2.96,"eta":0.45},{"f":2.96,"eta":0.35},{"f":2.96,"eta":0.28},{"f":2.96,"eta":0.22},{"f":2.96,"eta":0.17},{"f":2.96,"eta":0.12},{"f":2.96,"eta":0.09},{"f":2.96,"eta":0.05},
{"f":3.13,"eta":0.7},{"f":3.13,"eta":0.45},{"f":3.13,"eta":0.33},{"f":3.13,"eta":0.22},{"f":3.13,"eta":0.11},
{"f":3.33,"eta":0.95},{"f":3.33,"eta":0.86},{"f":3.33,"eta":0.77},{"f":3.33,"eta":0.68},{"f":3.33,"eta":0.6},{"f":3.33,"eta":0.52},{"f":3.33,"eta":0.42},{"f":3.33,"eta":0.33},
{"f":3.38,"eta":0.99},{"f":3.38,"eta":0.96},{"f":3.38,"eta":0.93},{"f":3.38,"eta":0.9},{"f":3.38,"eta":0.87},{"f":3.38,"eta":0.84},{"f":3.38,"eta":0.81},{"f":3.38,"eta":0.78},{"f":3.38,"eta":0.75},{"f":3.38,"eta":0.72},{"f":3.38,"eta":0.69},{"f":3.38,"eta":0.66},{"f":3.38,"eta":0.63},{"f":3.38,"eta":0.6},{"f":3.38,"eta":0.57},{"f":3.38,"eta":0.54},{"f":3.38,"eta":0.51},{"f":3.38,"eta":0.48},{"f":3.38,"eta":0.45},{"f":3.38,"eta":0.42},{"f":3.38,"eta":0.39},{"f":3.38,"eta":0.36},{"f":3.38,"eta":0.33},{"f":3.38,"eta":0.3},{"f":3.38,"eta":0.27},{"f":3.38,"eta":0.24},{"f":3.38,"eta":0.15},{"f":3.38,"eta":0.13},{"f":3.38,"eta":0.11},
{"f":3.43,"eta":0.82},{"f":3.43,"eta":0.65},{"f":3.43,"eta":0.55},{"f":3.43,"eta":0.45},{"f":3.43,"eta":0.35},{"f":3.43,"eta":0.28},
{"f":3.77,"eta":0.53},{"f":3.77,"eta":0.4},{"f":3.77,"eta":0.36},{"f":3.77,"eta":0.3},{"f":3.77,"eta":0.27},{"f":3.77,"eta":0.23},
{"f":4.07,"eta":1.0},{"f":4.07,"eta":0.97},{"f":4.07,"eta":0.94},{"f":4.07,"eta":0.91},{"f":4.07,"eta":0.88},{"f":4.07,"eta":0.85},{"f":4.07,"eta":0.82},{"f":4.07,"eta":0.79},{"f":4.07,"eta":0.76},{"f":4.07,"eta":0.73},{"f":4.07,"eta":0.7},{"f":4.07,"eta":0.67},{"f":4.07,"eta":0.64},{"f":4.07,"eta":0.61},{"f":4.07,"eta":0.58},{"f":4.07,"eta":0.55},{"f":4.07,"eta":0.52},{"f":4.07,"eta":0.49},{"f":4.07,"eta":0.46},{"f":4.07,"eta":0.43},{"f":4.07,"eta":0.4},{"f":4.07,"eta":0.37},{"f":4.07,"eta":0.34},{"f":4.07,"eta":0.31},{"f":4.07,"eta":0.28},{"f":4.07,"eta":0.25},{"f":4.07,"eta":0.16},{"f":4.07,"eta":0.12},{"f":4.07,"eta":0.1},{"f":4.07,"eta":0.06},
{"f":4.11,"eta":0.96},{"f":4.11,"eta":0.88},{"f":4.11,"eta":0.8},{"f":4.11,"eta":0.72},{"f":4.11,"eta":0.64},{"f":4.11,"eta":0.56},{"f":4.11,"eta":0.48},{"f":4.11,"eta":0.4},{"f":4.11,"eta":0.33},{"f":4.11,"eta":0.27},{"f":4.11,"eta":0.08},
{"f":4.16,"eta":0.99},{"f":4.16,"eta":0.95},{"f":4.16,"eta":0.91},{"f":4.16,"eta":0.87},{"f":4.16,"eta":0.83},{"f":4.16,"eta":0.79},{"f":4.16,"eta":0.75},{"f":4.16,"eta":0.71},{"f":4.16,"eta":0.67},{"f":4.16,"eta":0.63},{"f":4.16,"eta":0.59},{"f":4.16,"eta":0.55},{"f":4.16,"eta":0.51},{"f":4.16,"eta":0.47},{"f":4.16,"eta":0.43},{"f":4.16,"eta":0.39},{"f":4.16,"eta":0.35},{"f":4.16,"eta":0.31},{"f":4.16,"eta":0.27},{"f":4.16,"eta":0.24},{"f":4.16,"eta":0.14},{"f":4.16,"eta":0.11},
{"f":4.86,"eta":0.977},{"f":4.86,"eta":0.952},{"f":4.86,"eta":0.915},{"f":4.86,"eta":0.835},{"f":4.86,"eta":0.81},{"f":4.86,"eta":0.732},{"f":4.86,"eta":0.708},{"f":4.86,"eta":0.683},{"f":4.86,"eta":0.649},{"f":4.86,"eta":0.6},{"f":4.86,"eta":0.576},{"f":4.86,"eta":0.542},{"f":4.86,"eta":0.512},{"f":4.86,"eta":0.483},{"f":4.86,"eta":0.444},{"f":4.86,"eta":0.377},{"f":4.86,"eta":0.36},{"f":4.86,"eta":0.341},{"f":4.86,"eta":0.33},{"f":4.86,"eta":0.297},{"f":4.86,"eta":0.24},{"f":4.86,"eta":0.224},{"f":4.86,"eta":0.113},
{"f":4.78,"eta":0.708},{"f":4.97,"eta":0.716},{"f":4.97,"eta":0.649},{"f":4.97,"eta":0.576},{"f":4.97,"eta":0.36},{"f":4.97,"eta":0.33},{"f":4.97,"eta":0.224},
{"f":5.39,"eta":0.527},{"f":5.39,"eta":0.397},
{"f":6.0,"eta":0.717},{"f":6.0,"eta":0.637},{"f":6.0,"eta":0.36},
{"f":6.59,"eta":0.996},{"f":6.59,"eta":0.97},{"f":6.59,"eta":0.94},{"f":6.59,"eta":0.91},{"f":6.59,"eta":0.88},{"f":6.59,"eta":0.85},{"f":6.59,"eta":0.82},{"f":6.59,"eta":0.79},{"f":6.59,"eta":0.76},{"f":6.59,"eta":0.73},{"f":6.59,"eta":0.7},{"f":6.59,"eta":0.67},{"f":6.59,"eta":0.64},{"f":6.59,"eta":0.61},{"f":6.59,"eta":0.58},{"f":6.59,"eta":0.55},{"f":6.59,"eta":0.52},{"f":6.59,"eta":0.49},{"f":6.59,"eta":0.46},{"f":6.59,"eta":0.43},{"f":6.59,"eta":0.4},{"f":6.59,"eta":0.37},{"f":6.59,"eta":0.34},{"f":6.59,"eta":0.31},{"f":6.59,"eta":0.28},{"f":6.59,"eta":0.26},{"f":6.59,"eta":0.23},
{"f":6.62,"eta":0.8},{"f":6.62,"eta":0.72},{"f":6.62,"eta":0.65},{"f":6.62,"eta":0.55},{"f":6.62,"eta":0.45},{"f":6.62,"eta":0.35},{"f":6.62,"eta":0.3},
{"f":6.75,"eta":0.706},{"f":6.75,"eta":0.527},
{"f":7.02,"eta":0.716},{"f":7.02,"eta":0.647},{"f":7.02,"eta":0.576},{"f":7.02,"eta":0.483},{"f":7.02,"eta":0.444},{"f":7.02,"eta":0.36},{"f":7.02,"eta":0.333},{"f":7.02,"eta":0.224},
{"f":8.5,"eta":0.716},{"f":8.5,"eta":0.637},{"f":8.5,"eta":0.36},
{"f":9.31,"eta":0.99},{"f":9.31,"eta":0.96},{"f":9.31,"eta":0.93},{"f":9.31,"eta":0.9},{"f":9.31,"eta":0.87},{"f":9.31,"eta":0.84},{"f":9.31,"eta":0.81},{"f":9.31,"eta":0.78},{"f":9.31,"eta":0.75},{"f":9.31,"eta":0.72},{"f":9.31,"eta":0.69},{"f":9.31,"eta":0.66},{"f":9.31,"eta":0.63},{"f":9.31,"eta":0.6},{"f":9.31,"eta":0.57},{"f":9.31,"eta":0.54},{"f":9.31,"eta":0.51},{"f":9.31,"eta":0.48},{"f":9.31,"eta":0.45},{"f":9.31,"eta":0.434},{"f":9.31,"eta":0.393},{"f":9.31,"eta":0.356},{"f":9.31,"eta":0.331},{"f":9.31,"eta":0.273}
 ],
 "curvesL": [
{"curve":"eq6","o":1,"f":0,"eta":0},{"curve":"eq6","o":2,"f":0.13,"eta":0.013},{"curve":"eq6","o":3,"f":0.26,"eta":0.04},{"curve":"eq6","o":4,"f":0.4,"eta":0.105},{"curve":"eq6","o":5,"f":0.58,"eta":0.19},{"curve":"eq6","o":6,"f":0.74,"eta":0.28},{"curve":"eq6","o":7,"f":0.97,"eta":0.39},{"curve":"eq6","o":8,"f":1.34,"eta":0.563},{"curve":"eq6","o":9,"f":1.62,"eta":0.655},{"curve":"eq6","o":10,"f":2.0,"eta":0.75},{"curve":"eq6","o":11,"f":10,"eta":0.75},
{"curve":"vax","o":1,"f":0.4,"eta":0},{"curve":"vax","o":2,"f":0.4,"eta":0.27},{"curve":"vax","o":3,"f":0.6,"eta":0.315},{"curve":"vax","o":4,"f":0.8,"eta":0.355},{"curve":"vax","o":5,"f":0.97,"eta":0.39},{"curve":"vax","o":6,"f":1.2,"eta":0.45},{"curve":"vax","o":7,"f":1.42,"eta":0.5},{"curve":"vax","o":8,"f":1.88,"eta":0.57},{"curve":"vax","o":9,"f":2.39,"eta":0.633},{"curve":"vax","o":10,"f":2.85,"eta":0.673},{"curve":"vax","o":11,"f":3.2,"eta":0.689},{"curve":"vax","o":12,"f":10,"eta":0.689},
{"curve":"vog","o":1,"f":0.74,"eta":0},{"curve":"vog","o":2,"f":0.74,"eta":0.27},{"curve":"vog","o":3,"f":0.91,"eta":0.32},{"curve":"vog","o":4,"f":1.23,"eta":0.394},{"curve":"vog","o":5,"f":1.75,"eta":0.477},{"curve":"vog","o":6,"f":2.39,"eta":0.565},{"curve":"vog","o":7,"f":2.91,"eta":0.62},{"curve":"vog","o":8,"f":3.3,"eta":0.653},{"curve":"vog","o":9,"f":3.69,"eta":0.677},{"curve":"vog","o":10,"f":4.47,"eta":0.716},{"curve":"vog","o":11,"f":5.2,"eta":0.75}
 ],
 "curvesR": [
{"curve":"eq6","o":1,"f":0,"eta":0},{"curve":"eq6","o":2,"f":0.13,"eta":0.013},{"curve":"eq6","o":3,"f":0.26,"eta":0.04},{"curve":"eq6","o":4,"f":0.4,"eta":0.105},{"curve":"eq6","o":5,"f":0.58,"eta":0.19},{"curve":"eq6","o":6,"f":0.74,"eta":0.28},{"curve":"eq6","o":7,"f":0.97,"eta":0.39},{"curve":"eq6","o":8,"f":1.34,"eta":0.563},{"curve":"eq6","o":9,"f":1.62,"eta":0.655},{"curve":"eq6","o":10,"f":2.0,"eta":0.75},{"curve":"eq6","o":11,"f":10,"eta":0.75},
{"curve":"vax","o":1,"f":0.4,"eta":0},{"curve":"vax","o":2,"f":0.4,"eta":0.275},{"curve":"vax","o":3,"f":0.67,"eta":0.336},{"curve":"vax","o":4,"f":0.97,"eta":0.41},{"curve":"vax","o":5,"f":1.22,"eta":0.473},{"curve":"vax","o":6,"f":1.77,"eta":0.551},{"curve":"vax","o":7,"f":2.09,"eta":0.595},{"curve":"vax","o":8,"f":2.87,"eta":0.664},{"curve":"vax","o":9,"f":3.19,"eta":0.688},{"curve":"vax","o":10,"f":10,"eta":0.688},
{"curve":"vog","o":1,"f":0.75,"eta":0},{"curve":"vog","o":2,"f":0.75,"eta":0.287},{"curve":"vog","o":3,"f":1.12,"eta":0.395},{"curve":"vog","o":4,"f":1.7,"eta":0.512},{"curve":"vog","o":5,"f":2.41,"eta":0.58},{"curve":"vog","o":6,"f":3.06,"eta":0.634},{"curve":"vog","o":7,"f":3.71,"eta":0.674},{"curve":"vog","o":8,"f":4.29,"eta":0.708},{"curve":"vog","o":9,"f":5.2,"eta":0.75},{"curve":"vog","o":10,"f":10,"eta":0.75}
 ],
 "ann": [
{"seg":"b1","curve":"eq6","o":1,"f":3.24,"eta":0.8},{"seg":"b1","curve":"eq6","o":2,"f":2.43,"eta":0.8},{"seg":"b1","curve":"eq6","o":3,"f":2.27,"eta":0.753},
{"seg":"b2","curve":"eq6","o":1,"f":2.4,"eta":0.769},{"seg":"b2","curve":"eq6","o":2,"f":2.27,"eta":0.753},{"seg":"b2","curve":"eq6","o":3,"f":2.27,"eta":0.779},
{"seg":"p1","curve":"vog","o":1,"f":5.92,"eta":0.785},{"seg":"p1","curve":"vog","o":2,"f":3.69,"eta":0.785},{"seg":"p1","curve":"vog","o":3,"f":3.3,"eta":0.648},
{"seg":"p2","curve":"vog","o":1,"f":3.43,"eta":0.666},{"seg":"p2","curve":"vog","o":2,"f":3.3,"eta":0.648},{"seg":"p2","curve":"vog","o":3,"f":3.295,"eta":0.674},
{"seg":"g1","curve":"vax","o":1,"f":8.02,"eta":0.783},{"seg":"g1","curve":"vax","o":2,"f":6.15,"eta":0.783},{"seg":"g1","curve":"vax","o":3,"f":5.89,"eta":0.694},
{"seg":"g2","curve":"vax","o":1,"f":6.02,"eta":0.711},{"seg":"g2","curve":"vax","o":2,"f":5.89,"eta":0.694},{"seg":"g2","curve":"vax","o":3,"f":5.887,"eta":0.72}
 ],
 "labels": [
{"curve":"eq6","f":2.95,"eta":0.827,"text":"Εξ. (6)"},
{"curve":"vog","f":4.78,"eta":0.81,"text":"Voyagaki et al 2014"},
{"curve":"vax","f":7.1,"eta":0.81,"text":"Βαχαβιώλος 2013"}
 ]
},
"hconcat": [
 {
  "width": 514, "height": 341,
  "layer": [
   {"data": {"name": "fail"},
    "mark": {"type": "circle", "size": 72, "opacity": 1, "stroke": "#222", "strokeWidth": 0.8},
    "encoding": {
     "x": {"field": "f", "type": "quantitative", "scale": {"domain": [0, 10], "nice": false}, "axis": {"values": [0,2,4,6,8,10], "format": "d", "title": "ΑΔΙΑΣΤΑΤΗ ΣΥΧΝΟΤΗΤΑ\u00a0\u00a0\u00a0f = p Tₚ /2", "titlePadding": 10}},
     "y": {"field": "eta", "type": "quantitative", "scale": {"domain": [0, 1], "nice": false}, "axis": {"values": [0,0.2,0.4,0.6,0.8,1.0], "format": ".1f", "title": "ΑΝΤΙΣΤΑΣΗ ΣΕ ΛΙΚΝΙΣΜΟ\u00a0\u00a0\u00a0η = α · g / Ag", "titlePadding": 18}},
     "color": {"datum": "συστήματα που ανατρέπονται", "type": "nominal", "scale": {"range": ["#ff0000"]}, "legend": {"orient": "top-right", "offset": 6, "symbolType": "circle", "symbolSize": 90, "symbolStrokeColor": "#222", "symbolStrokeWidth": 0.6, "padding": 8}}
    }},
   {"data": {"name": "curvesL"},
    "mark": {"type": "line", "strokeWidth": 2.2},
    "encoding": {
     "x": {"field": "f", "type": "quantitative"},
     "y": {"field": "eta", "type": "quantitative"},
     "detail": {"field": "curve"},
     "order": {"field": "o", "type": "quantitative"},
     "stroke": {"field": "curve", "type": "nominal", "scale": {"domain": ["eq6","vog","vax"], "range": ["#1c24f2","#7a2b8c","#33e633"]}, "legend": null},
     "strokeDash": {"field": "curve", "type": "nominal", "scale": {"domain": ["eq6","vog","vax"], "range": [[1,0],[11,6],[12,5]]}, "legend": null}
    }},
   {"data": {"name": "ann"},
    "mark": {"type": "line", "strokeWidth": 1},
    "encoding": {
     "x": {"field": "f", "type": "quantitative"},
     "y": {"field": "eta", "type": "quantitative"},
     "detail": {"field": "seg"},
     "order": {"field": "o", "type": "quantitative"},
     "stroke": {"field": "curve", "type": "nominal", "legend": null}
    }},
   {"data": {"name": "labels"},
    "mark": {"type": "text", "font": "Liberation Sans", "fontSize": 12.5, "fontStyle": "italic", "align": "center", "baseline": "middle"},
    "encoding": {
     "x": {"field": "f", "type": "quantitative"},
     "y": {"field": "eta", "type": "quantitative"},
     "text": {"field": "text"},
     "fill": {"field": "curve", "type": "nominal", "scale": {"domain": ["eq6","vog","vax"], "range": ["#2a3ae0","#a236b4","#3cc43c"]}, "legend": null}
    }}
  ]
 },
 {
  "width": 514, "height": 341,
  "layer": [
   {"data": {"name": "safe"},
    "mark": {"type": "point", "shape": "circle", "size": 34, "filled": false, "opacity": 1, "strokeWidth": 1.1},
    "encoding": {
     "x": {"field": "f", "type": "quantitative", "scale": {"domain": [0, 10], "nice": false}, "axis": {"values": [0,2,4,6,8,10], "format": "d", "title": "ΑΔΙΑΣΤΑΤΗ ΣΥΧΝΟΤΗΤΑ\u00a0\u00a0\u00a0f = p Tₚ /2", "titlePadding": 10}},
     "y": {"field": "eta", "type": "quantitative", "scale": {"domain": [0, 1], "nice": false}, "axis": {"values": [0,0.2,0.4,0.6,0.8,1.0], "format": ".1f", "title": "ΑΝΤΙΣΤΑΣΗ ΣΕ ΛΙΚΝΙΣΜΟ\u00a0\u00a0\u00a0η = α · g / Ag", "titlePadding": 18}},
     "color": {"datum": "ασφαλή συστήματα", "type": "nominal", "scale": {"range": ["#1a1a1a"]}, "legend": {"orient": "bottom-right", "offset": 20, "symbolType": "circle", "symbolSize": 50, "padding": 9, "labelOffset": 13}}
    }},
   {"data": {"name": "curvesR"},
    "mark": {"type": "line", "strokeWidth": 2.2},
    "encoding": {
     "x": {"field": "f", "type": "quantitative"},
     "y": {"field": "eta", "type": "quantitative"},
     "detail": {"field": "curve"},
     "order": {"field": "o", "type": "quantitative"},
     "stroke": {"field": "curve", "type": "nominal", "scale": {"domain": ["eq6","vax","vog"], "range": ["#1c24f2","#33ee33","#f032f0"]}, "legend": null},
     "strokeDash": {"field": "curve", "type": "nominal", "scale": {"domain": ["eq6","vax","vog"], "range": [[1,0],[12,5],[10,5]]}, "legend": null}
    }}
  ]
 }
],
"resolve": {"scale": {"color": "independent", "stroke": "independent", "strokeDash": "independent", "fill": "independent"}}
}
